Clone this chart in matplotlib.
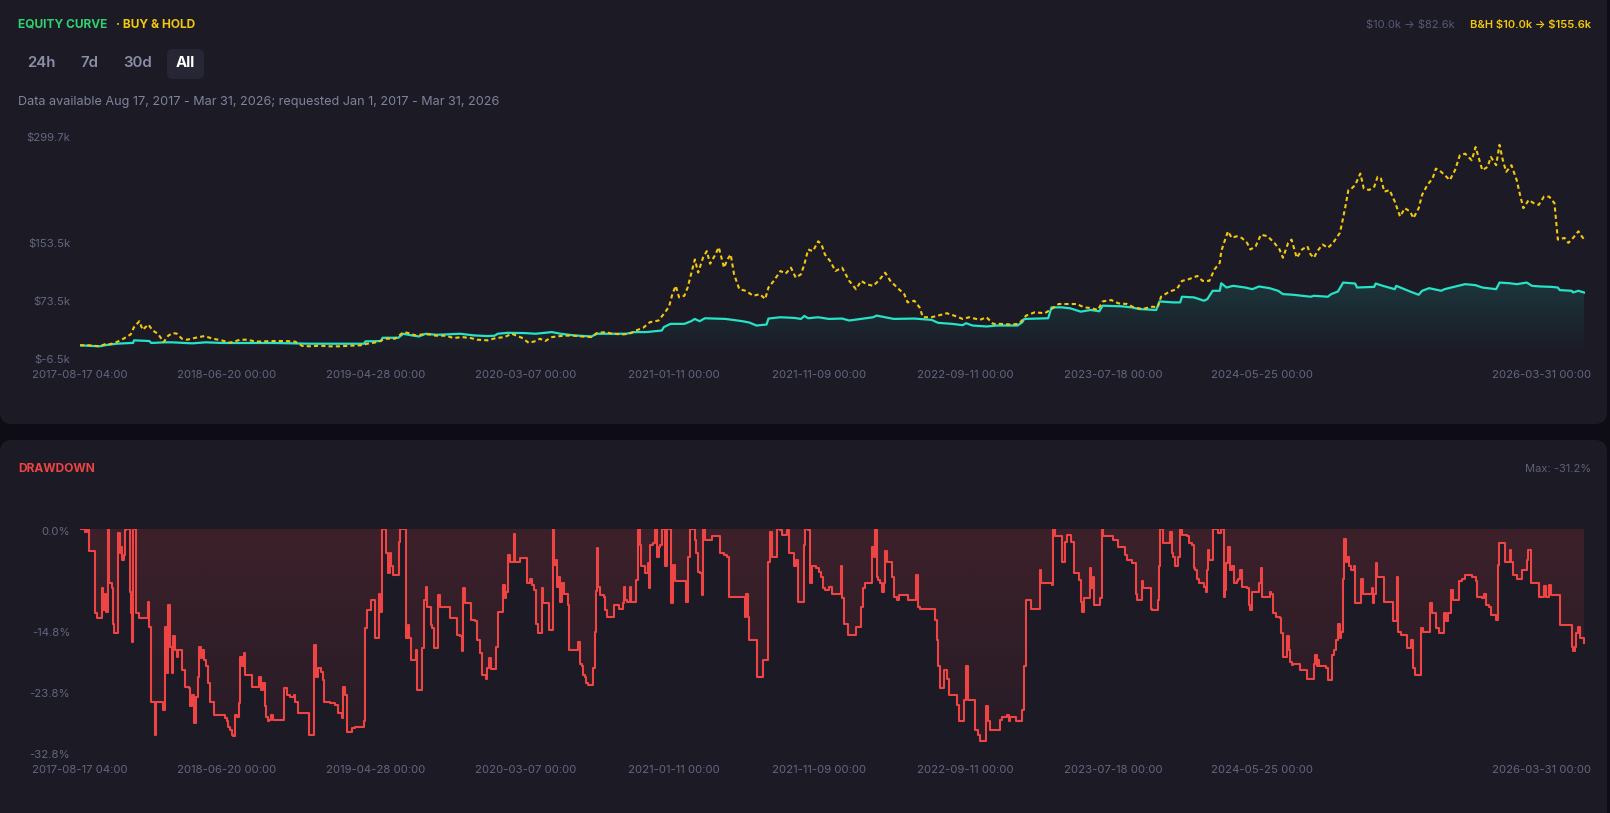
import numpy as np
import pandas as pd
import matplotlib
matplotlib.use("Agg")
import matplotlib.pyplot as plt
import matplotlib.dates as mdates
import matplotlib.colors as mcolors
from matplotlib.patches import FancyBboxPatch
from matplotlib.transforms import IdentityTransform, ScaledTranslation

plt.rcParams['font.family'] = ['Inter', 'DejaVu Sans']

# ---------------- data ----------------
START = pd.Timestamp("2017-08-17 04:00")
END = pd.Timestamp("2026-03-31 00:00")

# Buy & hold equity ($k), days since START
bh_days = [0, 19, 41, 55, 62, 77, 91, 106, 113, 124, 131, 143, 152, 163, 170, 175, 185, 195, 203, 213,
           224, 242, 260, 278, 296, 314, 335, 350, 368, 386, 407, 429, 450, 465, 483, 501, 522, 544, 565, 587,
           601, 623, 637, 659, 677, 687, 702, 716, 730, 745, 766, 781, 799, 817, 831, 852, 870, 888, 903, 924,
           939, 953, 962, 973, 987, 1005, 1027, 1048, 1070, 1081, 1099, 1113, 1135, 1149, 1163, 1178, 1192, 1210,
           1221, 1232, 1239, 1246, 1253, 1264, 1271, 1278, 1286, 1293, 1303, 1311, 1318, 1329, 1336, 1347, 1354,
           1361, 1368, 1379, 1393, 1408, 1422, 1433, 1440, 1451, 1465, 1476, 1487, 1497, 1508, 1515, 1523, 1533,
           1544, 1551, 1558, 1569, 1580, 1594, 1609, 1623, 1634, 1645, 1659, 1670, 1684, 1695, 1709, 1724, 1731,
           1745, 1756, 1763, 1781, 1795, 1813, 1828, 1846, 1860, 1882, 1896, 1910, 1925, 1946, 1964, 1979, 1997,
           2018, 2032, 2047, 2071, 2085, 2100, 2114, 2129, 2139, 2157, 2172, 2190, 2204, 2222, 2243, 2254, 2261,
           2279, 2294, 2305, 2319, 2337, 2348, 2362, 2373, 2384, 2387, 2394, 2401, 2409, 2419, 2430, 2441, 2448,
           2459, 2470, 2484, 2498, 2509, 2516, 2527, 2534, 2545, 2556, 2567, 2574, 2581, 2588, 2599, 2610, 2621,
           2635, 2639, 2646, 2653, 2660, 2667, 2678, 2685, 2696, 2707, 2714, 2721, 2728, 2739, 2750, 2761, 2771,
           2782, 2789, 2800, 2807, 2818, 2829, 2836, 2847, 2858, 2865, 2876, 2886, 2897, 2911, 2919, 2926, 2933,
           2944, 2951, 2962, 2969, 2976, 2983, 2994, 3005, 3012, 3019, 3030, 3041, 3051, 3062, 3073, 3084, 3091,
           3105, 3113, 3123, 3134, 3141, 3146]
bh_vals = [10.0, 10.0, 8.6, 12.2, 11.3, 14.5, 19.1, 25.0, 35.0, 43.1, 31.3, 38.6, 30.4, 25.9, 19.1, 14.5, 23.6, 26.8, 25.9, 19.1,
           17.7, 20.4, 22.7, 19.1, 16.8, 13.6, 17.7, 17.7, 15.0, 15.4, 15.9, 15.9, 15.0, 9.1, 8.6, 9.5, 8.6, 8.6, 9.5, 10.0,
           12.2, 14.5, 19.1, 19.1, 28.2, 26.8, 23.6, 25.0, 25.0, 23.2, 23.2, 20.0, 21.3, 20.0, 17.7, 16.8, 20.0, 21.3, 25.9, 20.4,
           13.2, 15.9, 19.0, 15.9, 21.3, 22.7, 23.6, 22.2, 21.3, 26.8, 28.2, 25.9, 25.0, 25.9, 30.4, 34.1, 41.8, 44.1,
           53.1, 63.1, 80.4, 91.8, 75.9, 78.1, 89.5, 107.7, 128.1, 110.0, 130.4, 139.5, 122.2, 134.9, 144.9, 116.8, 128.1,
           134.9, 107.7, 87.2, 84.9, 78.1, 80.4, 73.6, 89.5, 98.6, 112.2, 108.6, 116.8, 103.1, 107.7, 121.3, 141.8, 139.5,
           153.1, 148.6, 134.9, 125.9, 112.2, 116.8, 98.6, 87.2, 98.6, 94.1, 91.8, 98.6, 109.9, 98.6, 89.5, 80.4, 69.0,
           71.3, 62.2, 48.6, 48.6, 50.9, 54.1, 50.9, 46.3, 48.6, 45.0, 48.6, 39.5, 39.5, 38.6, 39.5, 50.9, 55.4,
           54.1, 59.9, 66.8, 66.8, 66.8, 62.2, 61.3, 58.6, 70.4, 72.2, 67.7, 66.8, 62.2, 59.9, 63.1, 62.2, 76.8,
           84.0, 87.2, 98.6, 100.9, 105.4, 98.6, 98.6, 114.5, 123.6, 139.5, 153.1, 166.8, 157.7, 160.0, 157.7, 150.9, 141.8,
           146.3, 162.2, 160.0, 150.9, 141.8, 130.4, 150.9, 155.4, 130.4, 141.8, 146.3, 134.9, 130.4, 139.5, 148.6, 144.0, 150.9,
           164.5, 175.9, 198.6, 223.6, 225.9, 230.4, 246.3, 225.9, 223.6, 228.1, 241.8, 239.5, 221.3, 223.6, 207.7, 187.2, 198.6,
           194.0, 184.9, 198.6, 216.8, 230.4, 239.5, 253.1, 248.6, 241.8, 237.2, 250.9, 271.3, 273.6, 264.5, 282.7, 266.8, 250.9,
           255.4, 269.0, 257.7, 285.8, 264.5, 248.6, 257.7, 237.2, 216.8, 198.6, 209.9, 205.4, 203.1, 214.5, 214.5, 205.4, 155.4,
           157.7, 150.9, 157.7, 166.8, 160.0, 155.6]

# Strategy equity ($k)
eq_days = [0, 41, 55, 77, 106, 111, 113, 145, 149, 177, 192, 235, 263, 299, 335, 407, 479, 594, 597, 630,
           633, 666, 676, 694, 709, 723, 745, 766, 795, 824, 852, 867, 874, 895, 931, 953, 987, 1005, 1034, 1070,
           1081, 1142, 1160, 1185, 1217, 1221, 1235, 1264, 1278, 1286, 1296, 1307, 1350, 1386, 1400, 1415, 1436, 1440,
           1465, 1494, 1508, 1515, 1523, 1544, 1566, 1594, 1609, 1634, 1659, 1666, 1684, 1702, 1745, 1781, 1795, 1824,
           1846, 1853, 1867, 1896, 1918, 1961, 1971, 1975, 2025, 2032, 2054, 2071, 2093, 2114, 2132, 2139, 2179, 2200,
           2215, 2251, 2258, 2287, 2301, 2305, 2330, 2351, 2358, 2369, 2384, 2387, 2398, 2412, 2437, 2452, 2466, 2488,
           2506, 2516, 2538, 2574, 2581, 2610, 2617, 2631, 2642, 2667, 2671, 2707, 2710, 2725, 2750, 2753, 2782, 2800,
           2807, 2822, 2847, 2854, 2883, 2897, 2919, 2933, 2962, 2969, 2990, 3005, 3026, 3037, 3055, 3077, 3091, 3095,
           3120, 3123, 3134, 3146]
eq_vals = [10.0, 8.6, 10.4, 12.2, 13.2, 13.2, 16.8, 15.9, 13.2, 14.1, 14.1, 12.7, 14.1, 13.2, 13.2, 13.2, 12.2, 12.2, 15.4, 15.9,
           20.4, 20.4, 25.9, 23.6, 22.2, 25.9, 24.5, 25.0, 25.9, 23.6, 22.7, 23.2, 25.9, 27.2, 26.8, 25.9, 28.2, 25.9, 23.6, 22.2,
           25.9, 25.9, 28.2, 28.2, 30.4, 35.0, 39.5, 39.5, 43.1, 46.3, 43.1, 47.2, 46.3, 43.1, 41.3, 37.2, 38.6, 46.8,
           48.6, 47.7, 46.3, 50.4, 47.2, 48.6, 46.3, 46.8, 44.1, 46.3, 48.6, 50.9, 48.6, 46.3, 46.8, 45.0, 40.9, 39.5,
           37.7, 40.4, 37.2, 35.9, 37.2, 37.2, 41.8, 46.3, 47.2, 62.2, 62.2, 60.9, 56.3, 58.6, 56.8, 64.5, 63.6, 62.2,
           59.9, 58.6, 70.4, 69.0, 69.0, 76.8, 75.9, 71.3, 73.6, 85.0, 85.0, 95.4, 89.5, 91.8, 89.5, 87.2, 90.9, 88.6,
           85.0, 80.4, 79.5, 76.8, 78.1, 76.8, 80.4, 84.0, 96.3, 95.0, 89.5, 90.4, 95.0, 91.8, 87.2, 91.8, 84.0, 79.5,
           85.0, 88.6, 85.0, 87.2, 91.8, 94.1, 92.7, 89.5, 87.2, 96.3, 95.4, 94.1, 96.3, 91.8, 90.9, 90.4, 89.5, 85.9,
           85.0, 82.7, 85.0, 82.6]

# Drawdown (%), days since START
dd_days = [0, 11, 14, 18, 32, 36, 45, 48, 52, 55, 59, 61, 66, 68, 71, 79, 80, 84, 85, 88, 91, 95, 97, 104, 106, 108,
           111, 118, 123, 143, 145, 149, 157, 159, 174, 177, 181, 184, 188, 192, 195, 199, 202, 206, 213, 220, 228,
           231, 235, 238, 242, 246, 249, 253, 256, 260, 264, 267, 271, 281, 303, 307, 310, 314, 317, 321, 325, 328,
           332, 335, 339, 343, 346, 360, 375, 378, 382, 386, 389, 393, 396, 400, 404, 427, 432, 440, 447, 450, 457,
           480, 490, 493, 497, 504, 508, 511, 522, 533, 540, 547, 551, 554, 558, 569, 576, 594, 597, 601, 608, 617,
           626, 628, 631, 641, 644, 648, 651, 655, 667, 669, 681, 686, 689, 692, 702, 704, 716, 720, 723, 725, 734,
           737, 741, 748, 752, 773, 788, 795, 799, 802, 806, 817, 827, 831, 837, 840, 849, 852, 856, 860, 870, 874,
           885, 888, 892, 896, 899, 908, 910, 921, 935, 942, 946, 949, 953, 957,
           962, 966, 969, 980, 989, 991, 995, 997, 1002, 1005, 1009, 1013, 1020, 1023, 1041, 1045, 1049, 1052, 1056,
           1059, 1063, 1070, 1074, 1077, 1079, 1082, 1084, 1088, 1095, 1099, 1102, 1117, 1127, 1135, 1138, 1140,
           1145, 1151, 1153, 1163, 1167, 1171, 1174, 1181, 1189, 1191, 1192, 1199, 1203, 1207, 1210, 1214, 1217,
           1224, 1228, 1237, 1240, 1244, 1268, 1271, 1275, 1286, 1289, 1293, 1296, 1300, 1303, 1307, 1321, 1339,
           1347, 1354, 1357, 1390, 1393, 1397, 1400, 1415, 1429, 1440, 1444, 1447, 1458, 1465, 1469, 1479, 1483,
           1494, 1497, 1501, 1514, 1517, 1523, 1526, 1530, 1540, 1545, 1550, 1555, 1558, 1566, 1573, 1591, 1594,
           1598, 1607, 1623, 1634, 1637, 1641, 1657, 1661, 1663, 1666, 1670, 1673, 1677, 1681, 1683, 1688, 1698,
           1702, 1709, 1713, 1731, 1749, 1752, 1756, 1788, 1792, 1795, 1799, 1807, 1813, 1817, 1835, 1839, 1849,
           1853, 1857, 1871, 1878, 1883, 1895, 1900, 1903, 1925, 1928, 1939, 1943, 1946, 1957, 1971, 1975, 1979,
           1989, 2007, 2011, 2032, 2036, 2040, 2053, 2061, 2065, 2072,
           2078, 2089, 2093, 2096, 2100, 2113, 2114, 2118, 2120, 2121, 2134, 2137, 2139, 2161, 2172, 2186, 2190,
           2200, 2208, 2211, 2221, 2223, 2241, 2243, 2254, 2256, 2259, 2265, 2279, 2283, 2287, 2290, 2297, 2301,
           2305, 2315, 2319, 2326, 2330, 2333, 2337, 2340, 2351, 2355, 2357, 2360, 2362, 2369, 2380, 2387, 2393,
           2394, 2398, 2401, 2405, 2409, 2414, 2419, 2423, 2427, 2430, 2441, 2445, 2448, 2452, 2466, 2470, 2472,
           2473, 2488, 2491, 2495, 2502, 2509, 2513, 2516, 2525, 2528, 2531, 2534, 2538, 2552, 2567, 2581, 2584,
           2587, 2590, 2592, 2606, 2610, 2619, 2623, 2628, 2631, 2635, 2638, 2642, 2644, 2647, 2650, 2654, 2659,
           2664, 2667, 2680, 2683, 2702, 2705, 2707, 2710, 2712, 2728, 2746, 2754, 2757, 2764, 2775, 2784, 2788,
           2793, 2805, 2809, 2824, 2827, 2836, 2843, 2853, 2858, 2861, 2868, 2872, 2885, 2890, 2897, 2911, 2919,
           2922, 2933, 2937, 2940, 2947, 2951, 2962, 2965, 2969, 2980, 2990, 2994, 2998, 3005, 3016, 3026, 3028,
           3034, 3051, 3062, 3066, 3073, 3077, 3096, 3120, 3123, 3127, 3130, 3134, 3138, 3146]
dd_vals = [0.0, -0.4, 0.0, -3.3, -12.3, -13.1, -8.7, -11.9, -9.5, -12.2, 0.0, -8.0, -8.7, -13.9, -15.3, -14.6, -0.6, -3.6, -2.6, -4.6, -3.8, -0.1, 0.0, -9.2, -12.4, -16.6,
           0.0, -12.4, -13.1, -10.8, -14.4, -25.4, -30.3, -25.4, -26.6, -14.4, -21.2, -11.2, -17.3, -21.2, -15.8, -17.8, -18.8, -17.8, -20.7, -23.2, -23.4,
           -26.1, -24.4, -28.6, -24.7, -21.7, -17.3, -19.0, -17.8, -19.3, -20.2, -22.7, -25.4, -27.4, -27.8, -28.3, -29.1, -29.6, -30.3, -30.5, -27.4, -27.6,
           -25.6, -18.8, -20.2, -18.3, -21.5, -23.2, -21.7, -23.7, -22.7, -26.1, -27.6, -28.3, -28.1, -27.4, -28.1, -23.4, -24.4, -24.7, -24.4, -25.4, -27.1,
           -30.3, -17.1, -21.7, -20.5, -21.0, -22.2, -25.4, -25.6, -25.9, -27.1, -27.8, -23.2, -24.4, -29.8, -29.3, -29.1, -28.3, -14.6, -11.9, -10.4, -16.1,
           -9.5, -12.2, 0.0, -3.6, -6.5, -3.6, -5.5, -6.8, -1.9, 0.0, -16.1, -14.1, -16.1, -19.3, -17.8, -23.7, -17.5, -10.4, -8.5, -11.4, -14.1,
           -14.6, -17.5, -9.7, -11.4, -13.1, -15.6, -15.8, -18.0, -8.7, -10.9, -13.4, -13.6, -16.3, -18.3, -21.5, -22.0, -20.5, -19.0, -20.6, -17.3, -12.2,
           -8.2, -10.2, -9.2, -3.8, -4.8, -0.7, -4.8, -4.3, -8.0, -7.3, -8.2, -9.0, -13.9, -15.3,
           -15.3, -8.7, -10.9, -14.9, 0.0, -5.3, -4.6, -8.5, -7.0, -10.7, -8.0, -9.5, -11.2, -17.8, -16.6, -19.8, -20.2, -21.5, -21.7,
           -22.7, -22.9, -23.0, -20.5, -15.1, -9.1, -2.8, -8.5, -9.7, -10.0, -11.9, -12.9, -11.2, -11.7, -10.9, -8.5, -10.4,
           -10.7, -8.5, -10.7, -7.5, 0.0, -2.4, -5.5, -6.5, -5.0, -8.7, -2.4, -2.1, 0.0, -4.1, -2.6, -2.4, 0.0,
           -5.5, 0.0, -10.9, -5.3, -7.7, -10.7, -4.1, 0.0, -1.6, -3.6, -6.3, -6.5, -9.7, 0.0, -1.6, -1.1, -3.6,
           -3.8, -4.1, -10.0, -12.9, -9.5, -12.9, -16.3, -21.7, -19.3, -4.8, -0.4, -4.1, 0.0, -0.1, -0.9, -0.1, -3.6,
           -5.5, -4.6, -10.7, -2.4, 0.0, -0.1, -8.0, -5.5, -5.8, -6.3, -7.0, -8.7, -9.0, -8.5, -9.5, -5.5, -10.2,
           -13.9, -15.6, -14.4, -11.4, -8.7, -8.0, -2.6, -4.1, 0.0, -7.0, -7.5, -8.0, -9.2, -8.0, -3.3, -4.8, -7.0,
           -10.0, -10.4, -9.7, -10.4, -6.8, -11.4, -11.7, -13.4, -16.3, -20.2, -23.4, -20.7, -22.0, -24.4, -25.9, -28.3, -25.1,
           -20.1, -25.1, -29.6, -30.3, -31.2, -26.1, -28.3, -29.6, -28.1, -27.6, -27.4, -28.3, -27.6, -28.3, -26.6, -20.2, -10.4,
           -11.7, -6.0, -8.0, -8.2, 0.0, -1.1, -4.8, -1.9, -0.9, -1.9,
           -6.5, -7.5, -10.7, -12.2, -10.2, -5.8, -8.7, -7.0, -8.7, -11.2, -10.2, 0.0, -1.1, -1.6, -2.6, -3.8, -4.6,
           -5.0, -9.5, -10.4, -7.7, -8.7, -11.7, -11.9, -10.4, -5.5, 0.0, -2.1, -0.4, -3.5, -4.1, -5.5, -4.1, 0.0,
           -0.9, -1.1, -2.1, -2.4, -5.8, -6.0, -7.3, -8.0, -8.5, -9.2, -6.0, -3.1, -4.6, 0.0, -0.6, 0.0, -10.0,
           -9.0, -5.0, -2.6, -6.0, -5.5, -8.0, -7.7, -7.3, -6.0, -8.5, -8.7, -11.2, -11.9, -9.2, -8.0, -5.8, -8.0,
           -10.0, -9.2, -9.5, -12.4, -12.9, -13.1, -15.3, -18.8, -15.8, -17.8, -19.5, -20.0, -19.8, -20.7, -22.0, -19.8, -18.5,
           -20.2, -19.3, -20.1, -20.5, -22.2, -18.5, -17.8, -16.3, -13.9, -16.1, -15.1, -7.3, -1.4, -4.8, -4.1, -5.5, -6.0,
           -5.5, -10.9, -7.3, -9.5, -8.7, -10.9, -9.5, -5.0, -7.0, -10.7, -13.6, -7.0, -15.1, -15.6, -17.5, -16.3, -20.5,
           -21.5, -14.6, -15.1, -10.9, -12.3, -14.6, -15.3, -12.4, -13.6, -12.4, -9.0, -10.4, -7.7, -7.3, -6.8, -7.0, -7.7,
           -10.0, -10.2, -9.5, -11.2, -11.4, -12.6, -13.4, -5.3, -2.1, -4.8, -3.1, -4.8, -6.8, -7.4, -6.0, -4.6, -3.1,
           -7.9, -10.0, -8.4, -10.0, -8.2, -9.7, -14.1, -17.3, -18.0, -17.3, -15.3, -14.4, -16.1, -16.7]

x_tick_labels = ["2017-08-17 04:00", "2018-06-20 00:00", "2019-04-28 00:00", "2020-03-07 00:00",
                 "2021-01-11 00:00", "2021-11-09 00:00", "2022-09-11 00:00", "2023-07-18 00:00",
                 "2024-05-25 00:00", "2026-03-31 00:00"]
eq_yticks = [-6.5, 73.5, 153.5, 299.7]
dd_yticks = [0.0, -14.8, -23.8, -32.8]
max_dd = -31.2
start_cap, end_cap, bh_end_cap = 10.0, 82.6, 155.6

# ---------------- style ----------------
W, H = 1610, 813
OUTER = '#0e0d16'
PANEL = '#1b1a25'
TICK = '#62667f'
CYAN = '#25e3c6'
YELLOW = '#f2c80f'
RED = '#ef4444'
GREEN = '#2fd16f'

fig = plt.figure(figsize=(W / 100, H / 100), dpi=100, facecolor=OUTER)


def fx(x):
    return x / W


def fy(y):
    return 1 - y / H


def panel(x0, y0, x1, y1, r=12, color=PANEL, z=-2):
    p = FancyBboxPatch((x0, H - y1), x1 - x0, y1 - y0,
                       boxstyle=f"round,pad=0,rounding_size={r}",
                       transform=IdentityTransform(), facecolor=color, edgecolor='none', zorder=z)
    fig.patches.append(p)


panel(0, -40, 1607, 424)
panel(0, 440, 1607, 860)
panel(167, 49, 204, 79, r=6, color='#272635', z=-1)


def to_num(days):
    return mdates.date2num(START + pd.to_timedelta(np.asarray(days, dtype=float), unit='D'))


x0n, x1n = mdates.date2num(START), mdates.date2num(END)
tick_nums = mdates.date2num(pd.to_datetime(x_tick_labels))


def gradient_fill(ax, x, y, base, color, a_top, a_bot, step=None):
    poly = ax.fill_between(x, y, base, step=step, facecolor='none', edgecolor='none')
    path = poly.get_paths()[0]
    ylo, yhi = ax.get_ylim()
    rgb = mcolors.to_rgb(color)
    grad = np.zeros((256, 1, 4))
    grad[:, 0, :3] = rgb
    grad[:, 0, 3] = np.linspace(a_top, a_bot, 256)
    im = ax.imshow(grad, aspect='auto', extent=[x0n, x1n, ylo, yhi], origin='upper', zorder=1,
                   interpolation='bilinear')
    im.set_clip_path(path, transform=ax.transData)


def style_axes(ax, yticks, ylabels, ylim):
    ax.set_facecolor('none')
    for s in ax.spines.values():
        s.set_visible(False)
    ax.set_xlim(x0n, x1n)
    ax.set_ylim(*ylim)
    ax.set_yticks(yticks, ylabels)
    ax.set_xticks(tick_nums, x_tick_labels)
    ax.tick_params(axis='both', length=0, labelsize=8.2, labelcolor=TICK)
    ax.tick_params(axis='y', pad=7)
    ax.tick_params(axis='x', pad=9)
    lab = ax.get_xticklabels()[-1]
    lab.set_horizontalalignment('right')
    lab.set_transform(lab.get_transform() + ScaledTranslation(0.06, 0, fig.dpi_scale_trans))
    for ylab in ax.get_yticklabels():
        ylab.set_transform(ylab.get_transform() + ScaledTranslation(0, -0.02, fig.dpi_scale_trans))


# ---------------- equity panel ----------------
ax1 = fig.add_axes([fx(80), fy(357.3), 1505 / W, 222.6 / H])
style_axes(ax1, eq_yticks, [f"${v:.1f}k" for v in eq_yticks], (eq_yticks[0], eq_yticks[-1]))
ex = to_num(eq_days)
gradient_fill(ax1, ex, eq_vals, eq_yticks[0], CYAN, 0.42, 0.0)
ax1.plot(ex, eq_vals, color=CYAN, lw=1.6, zorder=3, solid_joinstyle='round')
ax1.plot(to_num(bh_days), bh_vals, color=YELLOW, lw=1.5, ls=(0, (2.0, 1.5)), zorder=4)

# ---------------- drawdown panel ----------------
ax2 = fig.add_axes([fx(80), fy(752), 1505 / W, 223 / H])
style_axes(ax2, dd_yticks, [f"{v:.1f}%" for v in dd_yticks], (dd_yticks[-1], 0.0))
dx = to_num(dd_days)
gradient_fill(ax2, dx, dd_vals, 0.0, RED, 0.16, 0.05, step='post')
ax2.plot(dx, dd_vals, color=RED, lw=1.5, drawstyle='steps-post', zorder=3)

# ---------------- header texts ----------------
fig.text(fx(18), fy(25), "EQUITY CURVE", color=GREEN, fontsize=8.6, fontweight='bold', va='center', ha='left')
fig.text(fx(116), fy(25), "· BUY & HOLD", color=YELLOW, fontsize=8.6, fontweight='bold', va='center', ha='left')

for label, cx, col, wt in [("24h", 41.5, '#8b8fa8', 'semibold'), ("7d", 89.5, '#8b8fa8', 'semibold'),
                           ("30d", 138, '#8b8fa8', 'semibold'), ("All", 185.5, '#ffffff', 'bold')]:
    fig.text(fx(cx), fy(63), label, color=col, fontsize=10.8, fontweight=wt, va='center', ha='center')

fig.text(fx(18), fy(102), "Data available Aug 17, 2017 - Mar 31, 2026; requested Jan 1, 2017 - Mar 31, 2026",
         color='#7f839c', fontsize=9.1, va='center', ha='left')

fig.text(fx(1591), fy(25), f"B&H \\${start_cap:.1f}k → \\${bh_end_cap:.1f}k", color=YELLOW, fontsize=8,
         fontweight='semibold', va='center', ha='right')
fig.text(fx(1455), fy(25), f"\\${start_cap:.1f}k → \\${end_cap:.1f}k", color='#575b74', fontsize=8,
         va='center', ha='right')

fig.text(fx(18), fy(469), "DRAWDOWN", color=RED, fontsize=8.6, fontweight='bold', va='center', ha='left')
fig.text(fx(1591), fy(469), f"Max: {max_dd:.1f}%", color='#5c6079', fontsize=8, va='center', ha='right')

fig.savefig("out.png", dpi=100, facecolor=OUTER)
